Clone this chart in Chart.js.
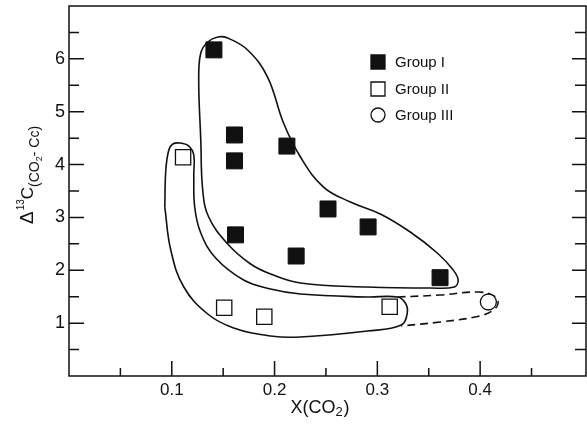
<!DOCTYPE html>
<html><head><meta charset="utf-8">
<script src="https://cdn.jsdelivr.net/npm/chart.js@4"></script>
<style>html,body{margin:0;padding:0;background:#fff}#wrap{width:587px;height:430px;position:relative}</style>
</head><body><div id="wrap"><canvas id="c"></canvas></div>
<script>
// ---- data ----
const seriesNames = ['Group I', 'Group II', 'Group III'];
const group1X = [0.141, 0.161, 0.161, 0.212, 0.252, 0.291, 0.162, 0.221, 0.361];
const group1Y = [6.17, 4.56, 4.07, 4.35, 3.16, 2.82, 2.67, 2.27, 1.86];
const group2X = [0.111, 0.151, 0.190, 0.312];
const group2Y = [4.14, 1.29, 1.12, 1.31];
const group3X = [0.408];
const group3Y = [1.40];

// hand-drawn envelopes (data units)
const env1X = [0.1282,0.1262,0.1282,0.1350,0.1447,0.1544,0.1738,0.1932,0.2087,0.2252,0.2476,0.2738,0.3029,0.3320,0.3583,0.3738,0.3786,0.3748,0.3515,0.2903,0.2252,0.1961,0.1767,0.1544,0.1359,0.1301,0.1282];
const env1Y = [4.465,5.600,6.110,6.319,6.413,6.394,6.167,5.656,4.786,4.143,3.575,3.292,3.065,2.724,2.327,2.005,1.816,1.684,1.665,1.684,1.759,1.930,2.119,2.497,3.008,3.519,4.465];
const env2X = [0.0932,0.0942,0.0971,0.1010,0.1078,0.1165,0.1214,0.1214,0.1223,0.1282,0.1427,0.1699,0.1961,0.2252,0.2903,0.3194,0.3272,0.3291,0.3233,0.2903,0.2252,0.1961,0.1602,0.1350,0.1117,0.0990,0.0932];
const env2Y = [3.197,3.897,4.275,4.389,4.408,4.351,4.181,3.803,3.197,2.705,2.232,1.816,1.646,1.551,1.494,1.494,1.381,1.192,0.965,0.851,0.738,0.757,0.908,1.173,1.684,2.384,3.197];
const env3X = [0.3194,0.3612,0.3981,0.4136,0.4175,0.4117,0.3951,0.3612,0.3233];
const env3Y = [1.494,1.532,1.589,1.513,1.381,1.230,1.116,1.022,0.946];

const xTickValues = [0.1, 0.2, 0.3, 0.4];
const xTickLabels = ['0.1', '0.2', '0.3', '0.4'];
const xMinorValues = [0.05, 0.15, 0.25, 0.35, 0.45];
const yTickValues = [1, 2, 3, 4, 5, 6];
const yTickLabels = ['1', '2', '3', '4', '5', '6'];
const yMinorValues = [0.5, 1.5, 2.5, 3.5, 4.5, 5.5, 6.5];

const pts = (xs, ys) => xs.map((x, i) => ({x: x, y: ys[i]}));
const INK = '#111';
const FONT = '"Liberation Sans", Arial, sans-serif';

const framePlugin = {
  id: 'frame',
  afterDraw(chart) {
    const ctx = chart.ctx, a = chart.chartArea;
    const xs = chart.scales.x, ys = chart.scales.y;
    ctx.save();
    ctx.strokeStyle = INK; ctx.lineWidth = 1.5;
    ctx.strokeRect(a.left, a.top, a.right - a.left, a.bottom - a.top);
    ctx.beginPath();
    yTickValues.forEach(v => { const p = ys.getPixelForValue(v);
      ctx.moveTo(a.left, p); ctx.lineTo(a.left + 15, p);
      ctx.moveTo(a.right, p); ctx.lineTo(a.right - 14, p); });
    yMinorValues.forEach(v => { const p = ys.getPixelForValue(v);
      ctx.moveTo(a.left, p); ctx.lineTo(a.left + 10, p);
      ctx.moveTo(a.right, p); ctx.lineTo(a.right - 11, p); });
    xTickValues.forEach(v => { const p = xs.getPixelForValue(v);
      ctx.moveTo(p, a.bottom); ctx.lineTo(p, a.bottom - 15); });
    xMinorValues.forEach(v => { const p = xs.getPixelForValue(v);
      ctx.moveTo(p, a.bottom); ctx.lineTo(p, a.bottom - 8); });
    ctx.stroke();

    // x title X(CO2)
    ctx.fillStyle = INK; ctx.textBaseline = 'alphabetic'; ctx.textAlign = 'left';
    const big = '18px ' + FONT, sub = '13px ' + FONT;
    ctx.font = big; const w1 = ctx.measureText('X(CO').width, w3 = ctx.measureText(')').width;
    ctx.font = sub; const w2 = ctx.measureText('2').width;
    let x = 320 - (w1 + w2 + w3 + 1) / 2;
    ctx.font = big; ctx.fillText('X(CO', x, 413); x += w1;
    ctx.font = sub; ctx.fillText('2', x, 416); x += w2 + 1;
    ctx.font = big; ctx.fillText(')', x, 413);

    // y title Δ13C(CO2- Cc)
    ctx.translate(33, 224);
    ctx.rotate(-Math.PI / 2);
    let t = 0;
    ctx.font = '19px ' + FONT; ctx.fillText('\u0394', t, 0); t += ctx.measureText('\u0394').width + 1;
    ctx.font = '10px ' + FONT; ctx.fillText('13', t, -9); t += ctx.measureText('13').width;
    ctx.font = '17px ' + FONT; ctx.fillText('C', t, 0); t += ctx.measureText('C').width;
    ctx.font = '14px ' + FONT; ctx.fillText('(CO', t, 6); t += ctx.measureText('(CO').width;
    ctx.font = '9px ' + FONT; ctx.fillText('2', t, 9); t += ctx.measureText('2').width;
    ctx.font = '14px ' + FONT; ctx.fillText('- Cc)', t, 6);
    ctx.restore();

    // legend
    ctx.save();
    const rows = [62, 89, 115];
    chart.data.datasets.slice(0, 3).forEach((ds, i) => {
      const cy = rows[i], cx = 378;
      ctx.lineWidth = 1.3; ctx.strokeStyle = INK; ctx.fillStyle = ds.backgroundColor;
      ctx.beginPath();
      if (ds.pointStyle === 'circle') ctx.arc(cx, cy, 7, 0, Math.PI * 2);
      else ctx.rect(cx - 7, cy - 7, 14, 14);
      ctx.fill(); ctx.stroke();
      ctx.fillStyle = INK; ctx.font = '15px ' + FONT; ctx.textBaseline = 'middle'; ctx.textAlign = 'left';
      ctx.fillText(ds.label, 395, cy + 1);
    });
    ctx.restore();
  }
};

const zeroPad = s => { s.paddingTop = 0; s.paddingBottom = 0; s.paddingLeft = 0; s.paddingRight = 0; };

new Chart(document.getElementById('c'), {
  type: 'scatter',
  data: {
    datasets: [
      {label: seriesNames[0], data: pts(group1X, group1Y), pointStyle: 'rect', pointRadius: 11.3,
       backgroundColor: INK, borderColor: INK, borderWidth: 1},
      {label: seriesNames[1], data: pts(group2X, group2Y), pointStyle: 'rect', pointRadius: 10.8,
       backgroundColor: '#fff', borderColor: INK, borderWidth: 1.3},
      {label: seriesNames[2], data: pts(group3X, group3Y), pointStyle: 'circle', pointRadius: 8,
       backgroundColor: '#fff', borderColor: INK, borderWidth: 1.3},
      {label: 'env1', data: pts(env1X, env1Y), showLine: true, pointRadius: 0, borderColor: INK, borderWidth: 1.6, tension: 0.4, fill: false},
      {label: 'env2', data: pts(env2X, env2Y), showLine: true, pointRadius: 0, borderColor: INK, borderWidth: 1.6, tension: 0.4, fill: false},
      {label: 'env3', data: pts(env3X, env3Y), showLine: true, pointRadius: 0, borderColor: INK, borderWidth: 1.6, tension: 0.4, fill: false, borderDash: [8, 5]}
    ]
  },
  options: {
    responsive: true, maintainAspectRatio: false, animation: false, events: [],
    layout: {autoPadding: false, padding: {left: 0, right: 1, top: 6, bottom: 0}},
    plugins: {legend: {display: false}, tooltip: {enabled: false}},
    scales: {
      x: {type: 'linear', min: 0, max: 0.503,
          grid: {display: false, drawTicks: false}, border: {display: false},
          afterBuildTicks: s => { s.ticks = xTickValues.map(v => ({value: v})); },
          afterFit: s => { s.height = 54; zeroPad(s); },
          ticks: {padding: 4, color: INK, font: {family: FONT, size: 17},
                  callback: (v) => { const i = xTickValues.indexOf(v); return i >= 0 ? xTickLabels[i] : ''; }}},
      y: {type: 'linear', min: 0, max: 7,
          grid: {display: false, drawTicks: false}, border: {display: false},
          afterBuildTicks: s => { s.ticks = yTickValues.map(v => ({value: v})); },
          afterFit: s => { s.width = 69; zeroPad(s); },
          ticks: {padding: 4, color: INK, font: {family: FONT, size: 18},
                  callback: (v) => { const i = yTickValues.indexOf(v); return i >= 0 ? yTickLabels[i] : ''; }}}
    }
  },
  plugins: [framePlugin]
});
</script>
</body></html>
